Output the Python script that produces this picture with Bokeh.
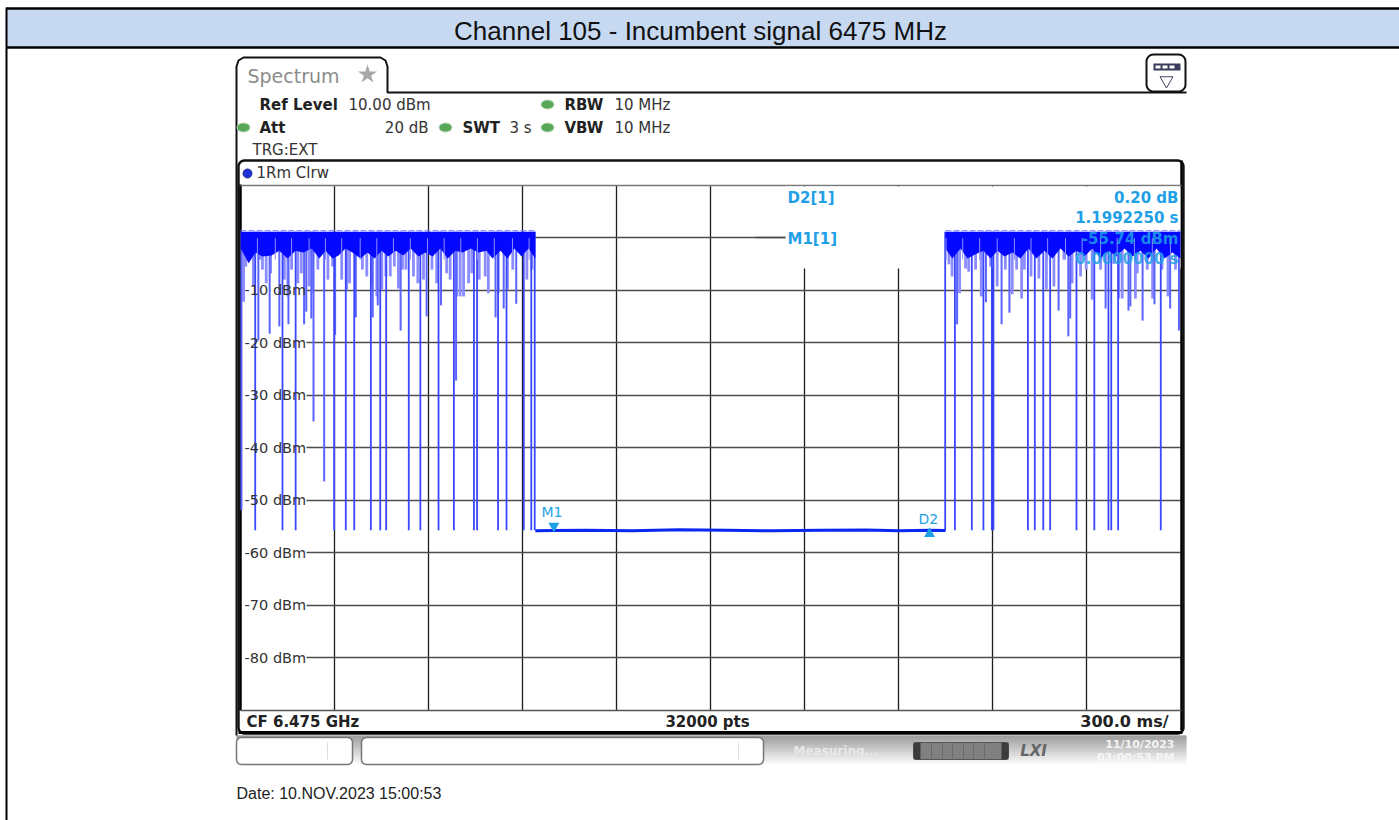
import math

from bokeh.embed import file_html
from bokeh.resources import INLINE
from bokeh.plotting import figure
from bokeh.models import Range1d, LinearAxis, Grid, FixedTicker
from bokeh.core.properties import value

# ---- data (time in ms, level in dBm) ----
y_ticks = [-10, -20, -30, -40, -50, -60, -70, -80]
y_tick_labels = ["-10 dBm", "-20 dBm", "-30 dBm", "-40 dBm", "-50 dBm", "-60 dBm", "-70 dBm", "-80 dBm"]
h_grid = [0, -10, -20, -30, -40, -50, -60, -70, -80]
v_grid = [300, 600, 900, 1200, 1500, 1800, 2100, 2400, 2700]

floor_level = -55.7
deep_ms = [47, 134, 176, 299, 336, 363, 416, 446, 465, 537, 574, 632, 681, 745, 755, 822, 849, 904, 928, 939,
           2249, 2280, 2334, 2371, 2398, 2403, 2513, 2535, 2562, 2584, 2668, 2725, 2770, 2779, 2801, 2937]
mid_ms = [3, 267, 233, 688, 511, 594, 57, 93, 124, 153, 203, 210, 226, 302, 368, 422, 438, 640, 814, 840, 880,
          2287, 2429, 2454, 2611, 2642, 2648, 2761, 2834, 2840, 2879, 2917, 2967, 2995, 2379]
mid_db = [-51.9, -46.4, -35, -27.2, -17.7, -15, -19.6, -18.3, -16.9, -16.5, -16.5, -14.1, -15.4, -18.5, -15.2,
          -15.2, -12.9, -12.9, -15.2, -13.5, -12.6,
          -16.5, -16.5, -14.3, -13.9, -18.8, -15.4, -13.5, -13.9, -13.1, -15.8, -12.7, -13.5, -17.7, -12.3]
shallow_ms = [10, 17, 41, 63, 70, 82, 96, 140, 151, 163, 183, 194, 219, 230, 247, 279, 294, 323, 339, 348, 389, 403,
              419, 435, 451, 464, 478, 491, 504, 517, 528, 552, 566, 584, 611, 626, 658, 669, 690, 701, 712, 728,
              738, 762, 781, 791, 823, 852, 869, 914, 930,
              2261, 2271, 2295, 2314, 2324, 2346, 2364, 2394, 2415, 2441, 2463, 2477, 2493, 2502, 2523, 2548, 2572,
              2596, 2628, 2654, 2681, 2699, 2718, 2745, 2787, 2803, 2814, 2856, 2862, 2894, 2911, 2941, 2960, 2984]
shallow_db = [-12.2, -5.5, -9.3, -4.2, -6.1, -8.7, -6.8, -8, -11.2, -6.1, -8.7, -6.8, -9.3, -10.6, -6.1, -8, -5.5, -8,
              -9.9, -8.7, -6.1, -7.4, -9.3, -11.2, -9.9, -7.4, -7.4, -5.5, -9.7, -6.1, -6.1, -7.4, -8.7, -8, -6.1,
              -8.7, -6.8, -8, -11.2, -11.2, -11.2, -8.7, -6.8, -8, -7.4, -10.6, -10.6, -9.9, -6.1, -8, -6.1,
              -5.1, -7.4, -10.6, -5.9, -6.5, -6.1, -11.2, -5.5, -9.3, -6.1, -10.8, -6.1, -11.6, -6.1, -7.4, -7.8,
              -9.9, -9.3, -4.2, -8.7, -7.4, -6.1, -11.8, -6.1, -5, -11.6, -11.6, -11.6, -6.8, -6.1, -11.6, -6.1,
              -11.2, -6.1]
notch_ms = [54, 111, 163, 219, 271, 323, 382, 435, 488, 542, 597, 650, 703, 756, 810, 868, 921,
            2252, 2305, 2359, 2415, 2470, 2523, 2576, 2633, 2686, 2745, 2798, 2853, 2910, 2968]
band_top = 1.1
left_band_ms = [1, 26, 48, 70, 99, 124, 150, 176, 201, 227, 252, 271, 294, 313, 335, 357, 383, 405, 428, 450, 472,
                495, 520, 543, 568, 590, 613, 638, 661, 686, 709, 734, 760, 785, 804, 830, 852, 874, 897, 919, 941]
left_band_db = [-2.1, -4.9, -2.85, -3.6, -3.4, -2.5, -4, -2.5, -2.85, -2.1, -4, -2.5, -4, -3.4, -2.1, -2.85, -4,
                -2.85, -4, -2.5, -3.6, -2.5, -3.4, -2.1, -3.6, -2.85, -3.6, -2.1, -4, -2.5, -2.85, -2.1, -2.85,
                -2.5, -4, -2.5, -4, -2.1, -3.6, -2.1, -4]
right_band_ms = [2250, 2272, 2298, 2320, 2346, 2371, 2394, 2416, 2438, 2464, 2489, 2515, 2540, 2566, 2591, 2617,
                 2643, 2668, 2693, 2719, 2745, 2770, 2796, 2821, 2847, 2872, 2898, 2923, 2949, 2974, 3000]
right_band_db = [-2.1, -4, -2.1, -4, -3.2, -2.5, -4, -2.5, -3.6, -2.85, -4, -2.1, -4, -2.5, -4, -2.1, -3.6, -2.5,
                 -3.6, -2.1, -4, -2.5, -3.6, -2.1, -3.6, -2.5, -4, -2.1, -4, -2.85, -4]
floor_ms = [941, 1000, 1100, 1250, 1400, 1550, 1700, 1850, 2000, 2100, 2202, 2250]
floor_db = [-55.8, -55.74, -55.7, -55.8, -55.6, -55.7, -55.8, -55.7, -55.65, -55.8, -55.72, -55.75]
marker_ms = [1000, 2199]

W, H = 1399, 820
LEFT, RIGHT, TOP, BOTTOM = 240.0, 1180.0, 184.5, 710.0   # plot area in window pixels
ms_per_px = 3000.0 / (RIGHT - LEFT)
db_per_px = 100.0 / (BOTTOM - TOP)

p = figure(width=W, height=H, output_backend="svg", toolbar_location=None, x_axis_type=None, y_axis_type=None,
           x_range=Range1d(-LEFT * ms_per_px, (W - LEFT) * ms_per_px),
           y_range=Range1d(10 - (H - TOP) * db_per_px, 10 + TOP * db_per_px),
           min_border=0, outline_line_color=None)
p.extra_x_ranges["px"] = Range1d(0, W)
p.extra_y_ranges["px"] = Range1d(H, 0)
PX = dict(x_range_name="px", y_range_name="px")
p.grid.visible = False

p.add_layout(Grid(dimension=0, ticker=FixedTicker(ticks=v_grid), grid_line_color="#1c1c1c", grid_line_width=1.3,
                  cross_bounds=(-90, 10)))
p.add_layout(Grid(dimension=1, ticker=FixedTicker(ticks=h_grid), grid_line_color="#4c4c4c", grid_line_width=1.5,
                  cross_bounds=(210, 3000)))

FONT = value("DejaVu Sans")
BLUE = "#1fa0e6"


def txt(x, y, s, size=15, color="#222222", bold=False, align="left", font=FONT, italic=False, alpha=1.0):
    style = "bold italic" if bold and italic else ("bold" if bold else ("italic" if italic else "normal"))
    p.text(x=[x], y=[y], text=[s], text_font=font, text_font_size=f"{size}px", text_color=color,
           text_font_style=style, text_align=align, text_baseline="middle", text_alpha=alpha, **PX)


def rounded(x0, y0, x1, y1, r, color="#111111", width=2.0, fill=None):
    xs, ys = [], []
    corners = [(x0 + r, y0 + r, 180), (x1 - r, y0 + r, 270), (x1 - r, y1 - r, 0), (x0 + r, y1 - r, 90)]
    for cx, cy, a0 in corners:
        for k in range(7):
            a = math.radians(a0 + k * 15)
            xs.append(cx + r * math.cos(a))
            ys.append(cy + r * math.sin(a))
    xs.append(xs[0])
    ys.append(ys[0])
    if fill:
        p.patch(xs, ys, fill_color=fill, line_color=color, line_width=width, **PX)
    else:
        p.line(xs, ys, line_color=color, line_width=width, **PX)


# ---- document frame and header ----
p.quad(left=[6], right=[W], top=[8], bottom=[47], fill_color="#c6d9f1", line_color=None, **PX)
p.line([6, W], [8, 8], line_color="#000000", line_width=2.5, **PX)
p.line([6, W], [47, 47], line_color="#000000", line_width=2.5, **PX)
p.line([6, 6], [7, H], line_color="#000000", line_width=2.0, **PX)
txt(700, 30, "Channel 105 - Incumbent signal 6475 MHz", size=26, color="#111111", align="center",
    font=value("Liberation Sans"))

# ---- bottom gradient strip ----
for row in range(735, 765):
    g = int(125 + (row - 735) * 130 / 29)
    p.quad(left=[236], right=[1186], top=[row], bottom=[row + 1], fill_color=f"#{g:02x}{g:02x}{g:02x}",
           line_color=None, **PX)

# ---- instrument frame ----
tab_x = [236, 236, 238, 243, 380, 385, 387, 387, 1186]
tab_y = [735, 66, 60, 57, 57, 60, 66, 92, 92]
p.line(tab_x, tab_y, line_color="#111111", line_width=2.0, **PX)
rounded(238, 160, 1183, 733, 6, color="#111111", width=2.4)
p.line([238, 1182], [732, 732], line_color="#000000", line_width=3, **PX)
p.line([240, 240], [184, 710], line_color="#000000", line_width=2.5, **PX)
p.line([1181, 1181], [160, 730], line_color="#000000", line_width=2.5, **PX)
p.line([240, 1181], [185, 185], line_color="#777777", line_width=1.5, **PX)
p.line([240, 1181], [710, 710], line_color="#555555", line_width=1.5, **PX)

# white block behind marker table
p.quad(left=[785], right=[1180], top=[186], bottom=[268], fill_color="#ffffff", line_color=None, **PX)

# ---- trace ----
p.segment(x0=shallow_ms, y0=[band_top - 3] * len(shallow_ms), x1=shallow_ms, y1=shallow_db,
          line_color="#8a8cff", line_width=2.8)
p.segment(x0=mid_ms, y0=[band_top] * len(mid_ms), x1=mid_ms, y1=mid_db, line_color="#5a62ff", line_width=2.0)
p.segment(x0=deep_ms, y0=[band_top] * len(deep_ms), x1=deep_ms, y1=[floor_level] * len(deep_ms),
          line_color="#3a46ff", line_width=1.8)
p.varea(x=left_band_ms, y1=left_band_db, y2=[band_top] * len(left_band_ms), fill_color="#0408ff")
p.varea(x=right_band_ms, y1=right_band_db, y2=[band_top] * len(right_band_ms), fill_color="#0408ff")
p.segment(x0=notch_ms, y0=[band_top - 1.2] * len(notch_ms), x1=notch_ms, y1=[-4.2] * len(notch_ms),
          line_color="#8a8cff", line_width=1.0)
p.line(floor_ms, floor_db, line_color="#0a28f0", line_width=3.0)
p.line([0, 941], [band_top + 0.2] * 2, line_color="#7c80ff", line_width=1, line_dash="6 2")
p.line([2250, 3000], [band_top + 0.2] * 2, line_color="#7c80ff", line_width=1, line_dash="6 2")

# y axis drawn inside the plot
ax = LinearAxis(ticker=FixedTicker(ticks=y_ticks), major_label_overrides=dict(zip(y_ticks, y_tick_labels)),
                fixed_location=232, axis_line_color=None, major_tick_line_color=None, minor_tick_line_color=None,
                major_label_standoff=1, major_label_text_font="DejaVu Sans", major_label_text_font_size="14.5px",
                major_label_text_color="#333333")
p.add_layout(ax, "left")

# ---- markers ----
p.scatter([marker_ms[0]], [-54.9], marker="inverted_triangle", size=11, fill_color=BLUE, line_color=None)
p.scatter([marker_ms[1]], [-56.4], marker="triangle", size=11, fill_color=BLUE, line_color=None)
txt(541, 511, "M1", size=14, color=BLUE)
txt(918, 518, "D2", size=14, color=BLUE)

# ---- marker table ----
txt(787, 197, "D2[1]", bold=True, color=BLUE)
txt(1178, 197, "0.20 dB", bold=True, color=BLUE, align="right")
txt(1178, 217, "1.1992250 s", bold=True, color=BLUE, align="right")
txt(787, 238, "M1[1]", bold=True, color=BLUE)
p.line([755, 785], [237, 237], line_color="#4c4c4c", line_width=1.5, **PX)
txt(1178, 238, "-55.74 dBm", bold=True, color=BLUE, align="right", alpha=0.85)
txt(1178, 258, "0.0000000 s", bold=True, color=BLUE, align="right", alpha=0.85)

# ---- header texts ----
txt(247, 75, "Spectrum", size=19, color="#8c8c8c")
p.scatter([367], [74], marker="star", size=20, fill_color="#a8a8a8", line_color=None, **PX)
txt(259, 104, "Ref Level", bold=True)
txt(348, 104, "10.00 dBm", color="#333333")
txt(564, 104, "RBW", bold=True)
txt(614, 104, "10 MHz", color="#333333")
txt(259, 127, "Att", bold=True)
txt(428, 127, "20 dB", align="right", color="#333333")
txt(462, 127, "SWT", bold=True)
txt(509, 127, "3 s", color="#333333")
txt(564, 127, "VBW", bold=True)
txt(614, 127, "10 MHz", color="#333333")
txt(252, 149, "TRG:EXT", color="#333333")
txt(256, 172, "1Rm Clrw", color="#333333")
p.ellipse([547, 243, 445, 547], [104, 127, 127, 127], width=13, height=9, fill_color="#58a858",
          line_color="#bcd8bc", **PX)
p.scatter([247], [173], marker="circle", size=9, fill_color="#2030d8", line_color="#223388", **PX)

# ---- footer texts ----
txt(246, 721, "CF 6.475 GHz", bold=True)
txt(707, 721, "32000 pts", bold=True, align="center")
txt(1168, 721, "300.0 ms/", size=16, bold=True, align="right")

# ---- soft buttons and status ----
rounded(236, 737, 352, 764, 5, color="#777777", width=1.5, fill="#ffffff")
rounded(361, 737, 763, 764, 5, color="#777777", width=1.5, fill="#ffffff")
p.line([327, 327], [742, 759], line_color="#dddddd", line_width=1, **PX)
p.line([738, 738], [742, 759], line_color="#dddddd", line_width=1, **PX)
txt(793, 750, "Measuring...", size=12, color="#e8e8e8", bold=True)
rounded(913, 742, 1008, 759, 3, color="#555555", width=1, fill="#808080")
p.quad(left=[913, 1001], right=[920, 1008], top=[742, 742], bottom=[759, 759], fill_color="#3c3c3c",
       line_color=None, **PX)
p.segment(x0=[931, 942, 952, 963, 973, 984], y0=[743] * 6, x1=[931, 942, 952, 963, 973, 984], y1=[758] * 6,
          line_color="#6a6a6a", line_width=1, **PX)
txt(1033, 750, "LXI", size=15, color="#666666", bold=True, italic=True, align="center")
txt(1174, 744, "11/10/2023", size=11, color="#f4f4f4", bold=True, align="right")
txt(1174, 757, "03:00:53 PM", size=11, color="#f6f6f6", bold=True, align="right")

# ---- top right icon ----
rounded(1146, 54, 1185, 91, 7, color="#111111", width=2.0, fill="#ffffff")
p.quad(left=[1153], right=[1180], top=[63], bottom=[70], fill_color="#3a3a5a", line_color=None, **PX)
p.quad(left=[1155, 1162, 1169], right=[1160, 1167, 1174], top=[65] * 3, bottom=[68] * 3, fill_color="#ffffff",
       line_color=None, **PX)
p.scatter([1166], [80], marker="inverted_triangle", size=13, fill_color="#ffffff", line_color="#444466", **PX)

txt(236, 793, "Date: 10.NOV.2023  15:00:53", size=16, color="#222222", font=value("Liberation Sans"))

open("out.html", "w").write(file_html(p, INLINE))
